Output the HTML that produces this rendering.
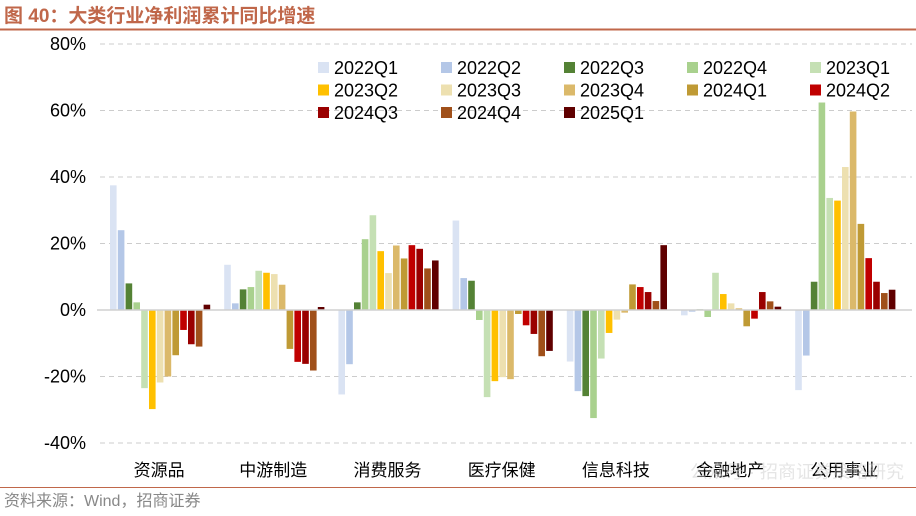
<!DOCTYPE html>
<html><head><meta charset="utf-8"><style>
body{margin:0;width:916px;height:511px;background:#fff;overflow:hidden;font-family:"Liberation Sans","Noto Sans CJK SC",sans-serif}
</style></head><body>
<svg width="916" height="511" xmlns="http://www.w3.org/2000/svg">
<text x="4" y="22" font-size="19" font-weight="bold" fill="#c0674a" font-family="Liberation Sans,Noto Sans CJK SC,sans-serif">图 40：大类行业净利润累计同比增速</text>
<line x1="0" y1="29.5" x2="916" y2="29.5" stroke="#c0674a" stroke-width="2"/>
<g id="grid"></g><g id="bars"></g><g id="axes"></g><g id="legend"></g>
<text x="690" y="478" font-size="18" fill="#ccc" opacity="0.5">公众号 · 招商证券策略研究</text>
<line x1="0" y1="487.5" x2="916" y2="487.5" stroke="#c0674a" stroke-width="1"/>
<text x="4" y="506" font-size="16" fill="#888">资料来源：Wind，招商证券</text>
</svg>
<script>
const categories=["资源品","中游制造","消费服务","医疗保健","信息科技","金融地产","公用事业"];
const seriesNames=["2022Q1","2022Q2","2022Q3","2022Q4","2023Q1","2023Q2","2023Q3","2023Q4","2024Q1","2024Q2","2024Q3","2024Q4","2025Q1"];
const colors=["#dae3f3","#b4c7e7","#548235","#a9d18e","#c5e0b4","#ffc000","#ede0b0","#dbb96a","#bf9a35","#c00000","#9a0000","#a0501a","#600000"];
const v0=[37.5,24,8,2.3,-23.5,-29.8,-21.8,-20,-13.6,-6,-10.3,-11,1.6];
const v1=[13.6,2,6.2,6.9,11.8,11.2,10.8,7.6,-11.7,-15.6,-16.2,-18.2,0.9];
const v2=[-25.4,-16.3,2.3,21.3,28.5,17.7,11.1,19.4,15.5,19.5,18.4,12.5,14.9];
const v3=[26.9,9.6,8.8,-3,-26.2,-21.4,-20.2,-20.8,-1.2,-4.6,-7.2,-13.9,-12.3];
const v4=[-15.5,-24.4,-25.9,-32.5,-14.6,-6.9,-2.9,-0.8,7.7,6.9,5.4,2.7,19.5];
const v5=[-1.6,-0.5,0.2,-2.1,11.2,4.8,2,0.5,-4.9,-2.6,5.4,2.6,1];
const v6=[-24.1,-13.7,8.5,62.4,33.7,32.9,43,59.7,25.9,15.6,8.5,5.1,6.1];
const values=[v0,v1,v2,v3,v4,v5,v6];
const yTicks=[80,60,40,20,0,-20,-40];
const NS="http://www.w3.org/2000/svg";
const y=v=>310-v*66.5/20;
const x0=97,gw=114.2,step=7.8,bw=6.6,pad=13;
function mk(t,a,p){const e=document.createElementNS(NS,t);for(const k in a)e.setAttribute(k,a[k]);document.getElementById(p).appendChild(e);return e;}
yTicks.forEach(t=>{
 if(t!==0){const g=mk('line',{x1:100,x2:912,y1:y(t),y2:y(t),stroke:'#ccc','stroke-dasharray':'5,4'},'grid');
 
 }
 const l=mk('text',{x:86,y:y(t)+6,'font-size':18,'text-anchor':'end',fill:'#000'},'axes');l.textContent=t+'%';
 
 
});
categories.forEach((c,i)=>{
 values[i].forEach((v,j)=>{
  const r=mk('rect',{x:x0+i*gw+pad+j*step,y:Math.min(y(v),y(0)),width:bw,height:Math.abs(y(v)-y(0)),fill:colors[j]},'bars');
  
  
 });
 const t=mk('text',{x:x0+i*gw+gw/2+5,y:476,'font-size':17,'text-anchor':'middle',fill:'#000'},'axes');t.textContent=c;
 
 
});
const ax=mk('line',{x1:97,x2:912,y1:y(0),y2:y(0),stroke:'#d0d0d0','stroke-width':1.5},'axes');


seriesNames.forEach((s,j)=>{
 const col=j%5,row=Math.floor(j/5);
 const lx=318+col*123,ly=68+row*22.5;
 const g=mk('g',{},'legend');
 
 
 const r=document.createElementNS(NS,'rect');r.setAttribute('x',lx);r.setAttribute('y',ly-6);r.setAttribute('width',11);r.setAttribute('height',11);r.setAttribute('fill',colors[j]);g.appendChild(r);
 const t=document.createElementNS(NS,'text');t.setAttribute('x',lx+16);t.setAttribute('y',ly+6);t.setAttribute('font-size',18);t.textContent=s;g.appendChild(t);
});
</script>
</body></html>
